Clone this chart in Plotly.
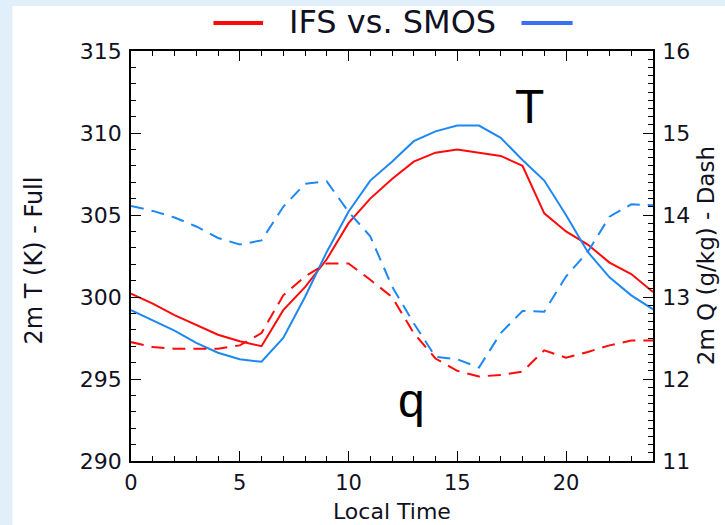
import plotly.graph_objects as go

hours = list(range(25))
t_ifs = [300.2, 299.6, 298.9, 298.3, 297.7, 297.3, 297.0, 299.2, 300.6, 302.3, 304.5, 306.0, 307.2,
         308.25, 308.8, 309.0, 308.8, 308.6, 308.0, 305.1, 304.0, 303.2, 302.1, 301.4, 300.3]
t_smos = [299.2, 298.6, 297.95, 297.2, 296.6, 296.2, 296.05, 297.5, 300.0, 302.75, 305.2, 307.1, 308.25,
          309.5, 310.1, 310.45, 310.45, 309.7, 308.35, 307.1, 305.0, 302.75, 301.2, 300.1, 299.25]
q_ifs = [12.45, 12.39, 12.37, 12.37, 12.37, 12.41, 12.56, 13.02, 13.25, 13.41, 13.41, 13.21, 13.0,
         12.56, 12.25, 12.10, 12.03, 12.05, 12.09, 12.35, 12.26, 12.33, 12.41, 12.47, 12.47]
q_smos = [14.11, 14.05, 13.97, 13.86, 13.72, 13.64, 13.69, 14.10, 14.38, 14.41, 14.04, 13.74, 13.13,
          12.68, 12.27, 12.24, 12.14, 12.56, 12.83, 12.82, 13.25, 13.55, 13.98, 14.13, 14.12]

RED = "#ff0a0a"
BLUE = "#1e88f2"
FONT = "DejaVu Sans, Liberation Sans, Arial, sans-serif"
TXT = "#111122"

fig = go.Figure()
fig.add_trace(go.Scatter(x=hours, y=t_ifs, mode="lines", line=dict(color=RED, width=2), name="IFS T"))
fig.add_trace(go.Scatter(x=hours, y=t_smos, mode="lines", line=dict(color=BLUE, width=2), name="SMOS T"))
fig.add_trace(go.Scatter(x=hours, y=q_ifs, mode="lines", yaxis="y2",
                         line=dict(color=RED, width=2, dash="13px,8px"), name="IFS q"))
fig.add_trace(go.Scatter(x=hours, y=q_smos, mode="lines", yaxis="y2",
                         line=dict(color=BLUE, width=2, dash="13px,8px"), name="SMOS q"))

axis_common = dict(showgrid=False, zeroline=False, showline=True, linecolor="black", linewidth=1.8,
                   ticks="inside", ticklen=10, tickwidth=1.3, tickcolor="black")

fig.update_layout(
    width=725, height=525,
    margin=dict(l=131, r=72, t=51, b=64),
    paper_bgcolor="#e0effa", plot_bgcolor="white",
    showlegend=False,
    xaxis=dict(range=[0, 24], tick0=0, dtick=5, mirror="ticks",
               minor=dict(dtick=1, ticklen=5, ticks="inside", tickcolor="black"),
               tickfont=dict(family=FONT, size=21, color=TXT),
               ticklabelstandoff=2, **axis_common),
    yaxis=dict(range=[290, 315], tick0=290, dtick=5,
               minor=dict(dtick=1, ticklen=5, ticks="inside", tickcolor="black"),
               tickfont=dict(family=FONT, size=22, color=TXT),
               ticklabelstandoff=3, **axis_common),
    yaxis2=dict(range=[11, 16], tick0=11, dtick=1, overlaying="y", side="right",
                minor=dict(dtick=0.1, ticklen=5, ticks="inside", tickcolor="black"),
                tickfont=dict(family=FONT, size=22, color=TXT),
                ticklabelstandoff=3, **axis_common),
    shapes=[
        dict(type="rect", xref="paper", yref="paper", x0=-0.2273, x1=1.14, y0=-0.16, y1=1.1098,
             fillcolor="white", line=dict(width=0), layer="below"),
        dict(type="line", xref="paper", yref="paper", x0=0.158, x1=0.253, y0=1.068, y1=1.068,
             line=dict(color=RED, width=4)),
        dict(type="line", xref="paper", yref="paper", x0=0.748, x1=0.846, y0=1.068, y1=1.068,
             line=dict(color="#3a6ff5", width=4)),
    ],
    annotations=[
        dict(text="IFS vs. SMOS", xref="paper", yref="paper", x=0.5, y=1.07, showarrow=False,
             xanchor="center", yanchor="middle", font=dict(family=FONT, size=32, color=TXT)),
        dict(text="2m T (K) - Full", xref="paper", yref="paper", x=-0.185, y=0.49, textangle=-90,
             showarrow=False, xanchor="center", yanchor="middle", font=dict(family=FONT, size=24, color=TXT)),
        dict(text="2m Q (g/kg) - Dash", xref="paper", yref="paper", x=1.102, y=0.5, textangle=-90,
             showarrow=False, xanchor="center", yanchor="middle", font=dict(family=FONT, size=23, color=TXT)),
        dict(text="Local Time", xref="paper", yref="paper", x=0.5, y=-0.1225,
             showarrow=False, xanchor="center", yanchor="middle", font=dict(family=FONT, size=22, color=TXT)),
        dict(text="T", xref="x", yref="y", x=18.3, y=311.6, showarrow=False,
             xanchor="center", yanchor="middle", font=dict(family="Liberation Sans, Arial", size=48, color="black")),
        dict(text="q", xref="x", yref="y", x=12.9, y=293.7, showarrow=False,
             xanchor="center", yanchor="middle", font=dict(family="Liberation Sans, Arial", size=48, color="black")),
    ],
)

fig.write_html("out.html")
